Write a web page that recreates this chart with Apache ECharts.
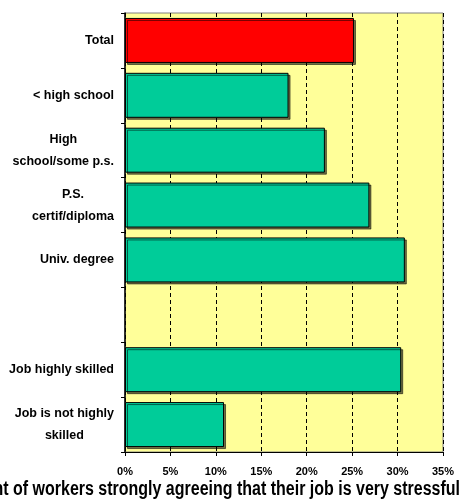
<!DOCTYPE html>
<html>
<head>
<meta charset="utf-8">
<script src="https://cdn.jsdelivr.net/npm/echarts@6/dist/echarts.min.js"></script>
<style>
html, body { margin: 0; padding: 0; background: #fff; }
#mainChart { width: 460px; height: 500px; }
</style>
</head>
<body>
<div id="mainChart"></div>
<script>
// categories, top to bottom (the empty one is the spacer row)
var categories = ['Total', '< high school', 'High\nschool/some p.s.', 'P.S.\ncertif/diploma', 'Univ. degree', '', 'Job highly skilled', 'Job is not highly\nskilled'];
// percent of workers strongly agreeing that their job is very stressful
var values = [25.2, 18.0, 22.0, 26.9, 30.8, null, 30.4, 10.9];
var barColors = ['#FF0000', '#00CC99', '#00CC99', '#00CC99', '#00CC99', '#00CC99', '#00CC99', '#00CC99'];
var xTicks = [0, 5, 10, 15, 20, 25, 30, 35];
var xTitle = 'Percent of workers strongly agreeing that their job is very stressful';

var option;
var mainChart;
var font = '"Liberation Sans", Arial, sans-serif';
var labelSize = 12.5;

// lines of a label are centred on each other, the block is right aligned to the axis
function buildRich() {
    var ctx = document.createElement('canvas').getContext('2d');
    ctx.font = 'bold ' + labelSize + 'px ' + font;
    var rich = {};
    for (var i = 0; i < categories.length; i++) {
        var lines = categories[i].split('\n');
        var widths = [];
        var maxW = 0;
        for (var j = 0; j < lines.length; j++) {
            widths.push(ctx.measureText(lines[j]).width);
            maxW = Math.max(maxW, widths[j]);
        }
        for (var j = 0; j < lines.length; j++) {
            rich['r' + i + '_' + j] = {
                padding: [0, (maxW - widths[j]) / 2, 0, 0],
                fontWeight: 'bold',
                fontSize: labelSize,
                lineHeight: 22,
                color: '#000',
                fontFamily: font
            };
        }
    }
    return rich;
}

function initOption() {
    var barData = [];
    for (var i = 0; i < values.length; i++) {
        barData.push({
            value: values[i] == null ? '-' : values[i],
            itemStyle: { color: barColors[i] }
        });
    }
    option = {
        animation: false,
        backgroundColor: '#ffffff',
        textStyle: { fontFamily: font },
        grid: {
            left: 125, right: 17, top: 13, bottom: 48,
            outerBoundsMode: 'none',
            show: true,
            backgroundColor: '#FFFF99',
            borderColor: '#808080',
            borderWidth: 1
        },
        xAxis: {
            type: 'value',
            min: xTicks[0],
            max: xTicks[xTicks.length - 1],
            interval: xTicks[1] - xTicks[0],
            axisLine: { show: true, lineStyle: { color: '#000', width: 1 } },
            axisTick: { show: true, length: 4, lineStyle: { color: '#000' } },
            axisLabel: {
                formatter: '{value}%',
                color: '#000',
                fontWeight: 'bold',
                fontSize: 11,
                margin: 14
            },
            splitLine: { show: true, lineStyle: { color: '#000', type: [4, 3], width: 1 } }
        },
        yAxis: {
            type: 'category',
            inverse: true,
            data: categories,
            axisLine: { show: true, lineStyle: { color: '#000', width: 1.5 } },
            axisTick: { show: true, length: 4, inside: false, lineStyle: { color: '#000' } },
            axisLabel: {
                interval: 0,
                margin: 11,
                color: '#000',
                align: 'right',
                formatter: function (v, idx) {
                    return v.split('\n').map(function (s, j) { return '{r' + idx + '_' + j + '|' + s + '}'; }).join('\n');
                },
                rich: buildRich()
            }
        },
        series: [
            {
                type: 'bar',
                data: barData,
                barCategoryGap: '18%',
                itemStyle: {
                    borderColor: '#000',
                    borderWidth: 1,
                    shadowColor: 'rgba(0,0,0,0.55)',
                    shadowOffsetX: 2,
                    shadowOffsetY: 2,
                    shadowBlur: 0
                }
            }
        ],
        graphic: [
            {
                // tall, condensed axis title, running off the left edge like the original
                type: 'text',
                x: 460,
                y: 480,
                scaleX: 0.82,
                style: {
                    text: xTitle,
                    font: 'bold 19.5px ' + font,
                    fill: '#000',
                    align: 'right',
                    verticalAlign: 'top'
                }
            }
        ]
    };
}

initOption();
mainChart = echarts.init(document.getElementById('mainChart'));
mainChart.setOption(option);
</script>
</body>
</html>
